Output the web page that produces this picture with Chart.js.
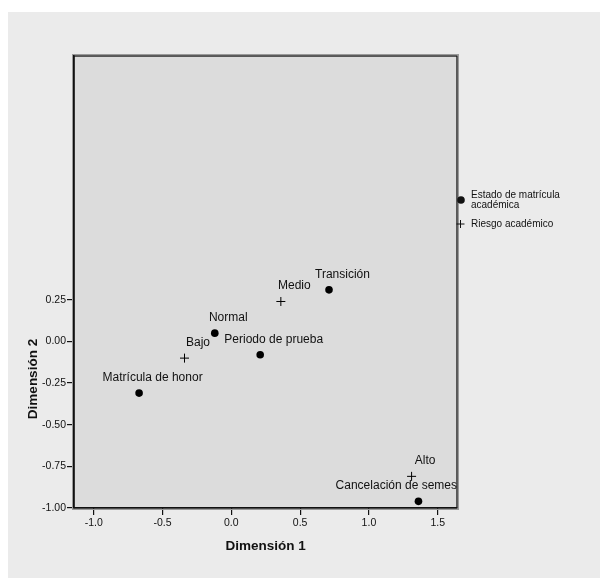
<!DOCTYPE html>
<html>
<head>
<meta charset="utf-8">
<script src="https://cdn.jsdelivr.net/npm/chart.js@4/dist/chart.umd.min.js"></script>
<style>
  html, body { margin: 0; padding: 0; background: #fff; }
  #wrap { position: relative; width: 600px; height: 578px; }
</style>
</head>
<body>
<div id="wrap"><canvas id="chart"></canvas></div>
<script>
// Estado de matrícula académica (puntos)
const estadoCategorias = ["Matrícula de honor", "Normal", "Periodo de prueba", "Transición", "Cancelación de semes"];
const estadoDim1 = [-0.67, -0.12, 0.21, 0.71, 1.36];
const estadoDim2 = [-0.31, 0.05, -0.08, 0.31, -0.96];

// Riesgo académico (cruces)
const riesgoCategorias = ["Bajo", "Medio", "Alto"];
const riesgoDim1 = [-0.34, 0.36, 1.31];
const riesgoDim2 = [-0.10, 0.24, -0.81];

const xTicks = [-1.0, -0.5, 0.0, 0.5, 1.0, 1.5];
const yTicks = [-1.0, -0.75, -0.5, -0.25, 0.0, 0.25];

const FONT = "'Liberation Sans', Arial, sans-serif";

const toPoints = (xs, ys, names) =>
  xs.map((x, i) => ({ x, y: ys[i], name: names[i] }));

// fondo gris, caja del gráfico, títulos de ejes y leyenda
const decor = {
  id: "decor",
  beforeDraw(chart) {
    const { ctx, chartArea: a } = chart;
    ctx.save();
    ctx.fillStyle = "#ebebeb";
    ctx.fillRect(8, 12, chart.width - 8, chart.height - 12);
    ctx.fillStyle = "#dcdcdc";
    ctx.fillRect(a.left, a.top, a.right - a.left, a.bottom - a.top);
    ctx.restore();
  },
  afterDraw(chart) {
    const { ctx, chartArea: a, scales } = chart;
    ctx.save();
    ctx.strokeStyle = "#9a9a9a";
    ctx.lineWidth = 1;
    ctx.strokeRect(a.left - 1.5, a.top - 1.5, a.right - a.left + 3, a.bottom - a.top + 3);
    ctx.strokeStyle = "#111";
    ctx.lineWidth = 1.3;
    ctx.strokeRect(a.left, a.top, a.right - a.left, a.bottom - a.top);

    // títulos de ejes, centrados sobre el rango de las marcas
    ctx.fillStyle = "#111";
    ctx.font = "bold 13.5px " + FONT;
    ctx.textAlign = "center";
    ctx.textBaseline = "middle";
    const xMid = (scales.x.getPixelForValue(xTicks[0]) + scales.x.getPixelForValue(xTicks[xTicks.length - 1])) / 2;
    ctx.fillText("Dimensión 1", xMid, 546);
    const yMid = 379;
    ctx.translate(33, yMid);
    ctx.rotate(-Math.PI / 2);
    ctx.fillText("Dimensión 2", 0, 0);
    ctx.restore();

    // leyenda
    ctx.save();
    ctx.font = "10px " + FONT;
    ctx.fillStyle = "#111";
    ctx.strokeStyle = "#111";
    ctx.textAlign = "left";
    ctx.textBaseline = "middle";
    let y = 200;
    chart.data.datasets.forEach(ds => {
      const lines = wrap(ctx, ds.label, 100);
      if (ds.pointStyle === "circle") {
        ctx.beginPath();
        ctx.arc(461, y, 3.8, 0, Math.PI * 2);
        ctx.fill();
      } else {
        ctx.lineWidth = 1;
        ctx.beginPath();
        ctx.moveTo(456.5, y); ctx.lineTo(464.5, y);
        ctx.moveTo(460.5, y - 4); ctx.lineTo(460.5, y + 4);
        ctx.stroke();
      }
      const top = y - (lines.length - 1) * 5;
      lines.forEach((ln, i) => ctx.fillText(ln, 471, top + i * 10));
      y += 24;
    });
    ctx.restore();
  },
  afterDatasetsDraw(chart) {
    const { ctx, chartArea: a } = chart;
    ctx.save();
    ctx.beginPath();
    ctx.rect(a.left, a.top, a.right - a.left, a.bottom - a.top);
    ctx.clip();
    ctx.font = "12px " + FONT;
    ctx.fillStyle = "#111";
    ctx.textAlign = "center";
    ctx.textBaseline = "middle";
    chart.data.datasets.forEach((ds, di) => {
      chart.getDatasetMeta(di).data.forEach((el, i) => {
        const text = ds.data[i].name;
        const w = ctx.measureText(text).width;
        let cx = el.x + 13.5;
        if (cx + w / 2 > a.right) cx = a.right - w / 2;
        ctx.fillText(text, cx, el.y - 15.5);
      });
    });
    ctx.restore();
  }
};

function wrap(ctx, text, maxW) {
  const words = text.split(" ");
  const lines = [];
  let cur = "";
  words.forEach(w => {
    const t = cur ? cur + " " + w : w;
    if (ctx.measureText(t).width > maxW && cur) {
      lines.push(cur);
      cur = w;
    } else cur = t;
  });
  lines.push(cur);
  return lines;
}

new Chart(document.getElementById("chart"), {
  type: "scatter",
  data: {
    datasets: [
      {
        label: "Estado de matrícula académica",
        data: toPoints(estadoDim1, estadoDim2, estadoCategorias),
        pointStyle: "circle",
        pointRadius: 3.8,
        backgroundColor: "#000",
        borderColor: "#000",
        borderWidth: 0,
      },
      {
        label: "Riesgo académico",
        data: toPoints(riesgoDim1, riesgoDim2, riesgoCategorias),
        pointStyle: "cross",
        pointRadius: 4.5,
        backgroundColor: "#000",
        borderColor: "#000",
        borderWidth: 1,
      },
    ],
  },
  options: {
    responsive: true,
    maintainAspectRatio: false,
    animation: false,
    devicePixelRatio: 1,
    layout: { padding: { left: 0, top: 56, right: 143, bottom: 0 } },
    plugins: {
      legend: { display: false },
      tooltip: { enabled: false },
    },
    scales: {
      x: {
        min: -1.143,
        max: 1.64,
        afterBuildTicks: s => { s.ticks = xTicks.map(v => ({ value: v })); },
        afterFit: s => { s.height = 70; },
        grid: { drawOnChartArea: false, drawTicks: true, tickLength: 7, color: "#111", lineWidth: 1.2 },
        border: { display: true, color: "#111", width: 1.3 },
        ticks: {
          color: "#111",
          padding: 2,
          maxRotation: 0,
          font: { family: FONT, size: 10.5 },
          callback: v => v.toFixed(1),
        },
      },
      y: {
        min: -1.0,
        max: 1.714,
        afterBuildTicks: s => { s.ticks = yTicks.map(v => ({ value: v })); },
        afterFit: s => { s.width = 74; },
        grid: { drawOnChartArea: false, drawTicks: true, tickLength: 7, color: "#111", lineWidth: 1.2 },
        border: { display: true, color: "#111", width: 1.5 },
        ticks: {
          color: "#111",
          padding: 1,
          font: { family: FONT, size: 10.5 },
          callback: v => v.toFixed(2),
        },
      },
    },
  },
  plugins: [decor],
});
</script>
</body>
</html>
